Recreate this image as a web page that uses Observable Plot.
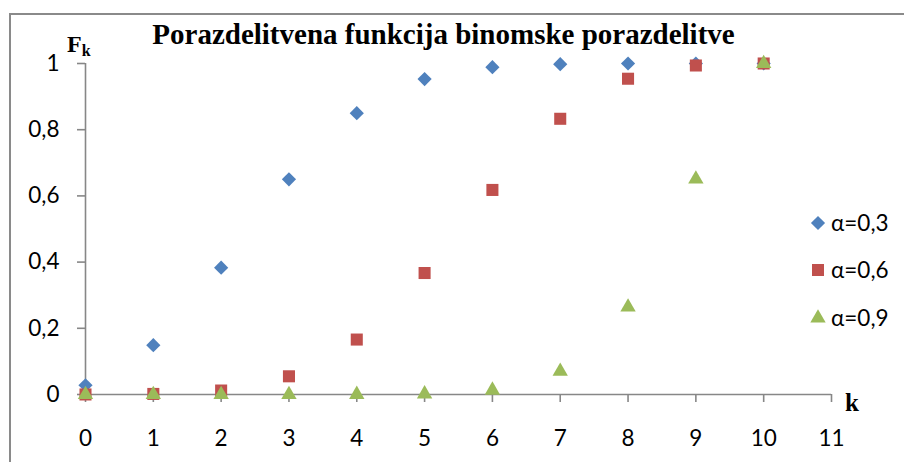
<!DOCTYPE html>
<html>
<head>
<meta charset="utf-8">
<script src="https://cdn.jsdelivr.net/npm/d3@7"></script>
<script src="https://cdn.jsdelivr.net/npm/@observablehq/plot@0.6"></script>
<style>
  html, body { margin: 0; padding: 0; background: #fff; }
  #wrap { position: relative; width: 904px; height: 462px; overflow: hidden; font-family: Lato, "Noto Sans", sans-serif; }
  #frame { position: absolute; left: 9px; top: 13px; width: 1000px; height: 1000px; border-left: 2px solid #8a8a8a; border-top: 2px solid #8a8a8a; }
  .serif { position: absolute; font-family: "Liberation Serif", "DejaVu Serif", serif; font-weight: bold; color: #000; white-space: nowrap; }
  #title { left: 0; width: 887px; text-align: center; top: 18px; font-size: 29px; }
  #fk { left: 67px; top: 31px; font-size: 24px; }
  #fk sub { font-size: 16px; vertical-align: -4px; }
  #kx { left: 845px; top: 389px; font-size: 25px; }
  .leg { position: absolute; left: 808px; display: flex; align-items: center; font-size: 22.5px; color: #000; }
  .leg svg { margin-right: 3px; }
</style>
</head>
<body>
<div id="wrap">
  <div id="frame"></div>
  <div id="chart"></div>
  <div id="title" class="serif">Porazdelitvena funkcija binomske porazdelitve</div>
  <div id="fk" class="serif">F<sub>k</sub></div>
  <div id="kx" class="serif">k</div>
  <div id="legend"></div>
</div>
<script>
const ks = [0, 1, 2, 3, 4, 5, 6, 7, 8, 9, 10];
const F03 = [0.028, 0.149, 0.383, 0.650, 0.850, 0.953, 0.989, 0.998, 1.0, 1.0, 1.0];
const F06 = [0.0001, 0.0017, 0.012, 0.055, 0.166, 0.367, 0.618, 0.833, 0.954, 0.994, 1.0];
const F09 = [0, 0, 0, 0, 0.0001, 0.0016, 0.013, 0.070, 0.264, 0.651, 1.0];
const seriesNames = ["α=0,3", "α=0,6", "α=0,9"];
const seriesColors = ["#4F81BD", "#C0504D", "#9BBB59"];
const seriesSymbols = ["diamond2", "square", "triangle"];
const seriesR = [6.4, 6.8, 5.7];
const xTicks = [0, 1, 2, 3, 4, 5, 6, 7, 8, 9, 10, 11];
const yTicks = [0, 0.2, 0.4, 0.6, 0.8, 1];

const allSeries = [F03, F06, F09];
const fmt = d => String(d).replace(".", ",");

const marks = [
  Plot.ruleX([0], {stroke: "#878787", strokeWidth: 1.6}),
  Plot.ruleY([0], {stroke: "#878787", strokeWidth: 1.6}),
  Plot.axisX({ticks: xTicks, label: null, tickSize: 8, tickPadding: 28, stroke: "#878787", strokeWidth: 1.6, strokeOpacity: 1, fontSize: 22.5, fill: "#000", tickFormat: d => String(d)}),
  Plot.axisY({ticks: yTicks, label: null, tickSize: 8, tickPadding: 18, stroke: "#878787", strokeWidth: 1.6, strokeOpacity: 1, fontSize: 22.5, fill: "#000", tickFormat: fmt})
];
allSeries.forEach((vals, i) => {
  const data = ks.map((k, j) => ({k, F: vals[j]}));
  marks.push(Plot.dot(data, {x: "k", y: "F", symbol: () => seriesSymbols[i], r: seriesR[i], fill: seriesColors[i], stroke: "none"}));
});

const chart = Plot.plot({
  width: 904,
  height: 462,
  marginLeft: 85,
  marginRight: 73,
  marginTop: 63,
  marginBottom: 68,
  style: {fontFamily: "Lato, 'Noto Sans', sans-serif", background: "transparent", overflow: "visible"},
  x: {domain: [0, 11], axis: null, label: null},
  y: {domain: [0, 1], axis: null, label: null},
  symbol: {domain: seriesSymbols, range: seriesSymbols},
  marks
});
chart.style.position = "absolute";
chart.style.left = "0px";
chart.style.top = "0px";
document.getElementById("chart").appendChild(chart);

// legend
const legendTops = [209, 256, 304];
const legend = document.getElementById("legend");
seriesNames.forEach((name, i) => {
  const row = document.createElement("div");
  row.className = "leg";
  row.style.top = legendTops[i] + "px";
  const s = d3.create("svg").attr("width", 20).attr("height", 24);
  const sym = {diamond2: d3.symbolDiamond2, square: d3.symbolSquare, triangle: d3.symbolTriangle}[seriesSymbols[i]];
  const size = Math.PI * seriesR[i] * seriesR[i];
  s.append("path").attr("d", d3.symbol(sym, size)()).attr("transform", "translate(10,12)").attr("fill", seriesColors[i]);
  row.appendChild(s.node());
  const t = document.createElement("span");
  t.textContent = name;
  row.appendChild(t);
  legend.appendChild(row);
});
</script>
</body>
</html>
